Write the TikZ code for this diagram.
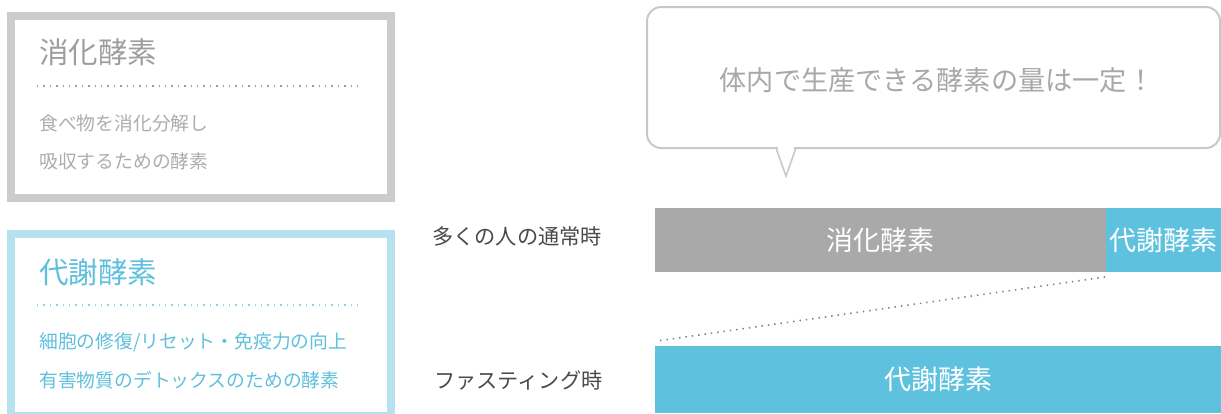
\documentclass[tikz,border=0pt]{standalone}
\usepackage{fontspec}
\setmainfont{Noto Sans CJK JP}
\definecolor{gborder}{HTML}{CCCCCC}
\definecolor{gtext}{HTML}{9E9E9E}
\definecolor{bborder}{HTML}{B5E2EE}
\definecolor{btext}{HTML}{5EC0DC}
\definecolor{bargray}{HTML}{A9A9A9}
\definecolor{barblue}{HTML}{5EC2DF}
\definecolor{labeltext}{HTML}{4A4A4A}
\definecolor{bubbleline}{HTML}{C8C8C8}
\tikzset{
  infobox/.style={draw, line width=8pt, minimum width=380pt, minimum height=182pt, inner sep=0pt},
  boxtitle/.style={anchor=west, inner sep=0pt, font=\fontsize{29.5}{29.5}\selectfont},
  boxbody/.style={anchor=west, inner sep=0pt, font=\fontsize{18.8}{18.8}\selectfont},
  sepline/.style={line width=1.6pt, dash pattern=on 1.4pt off 5pt},
  bar/.style={inner sep=0pt, text=white, font=\fontsize{27}{27}\selectfont},
  rowlabel/.style={anchor=west, inner sep=0pt, text=labeltext, font=\fontsize{21.2}{21.2}\selectfont},
}
\begin{document}
\begin{tikzpicture}[x=1pt,y=-1pt]
\useasboundingbox (0,0) rectangle (1221,413);
\clip (0,0) rectangle (1221,413);
% left boxes
\node[infobox, draw=gborder] (dbox) at (201,106.5) {};
\node[boxtitle, text=gtext] (dtitle) at (39,52.5) {消化酵素};
\coordinate (dl1) at (37,86);
\coordinate (dl2) at (362,86);
\draw[sepline, draw=gtext] (dl1) -- (dl2);
\node[boxbody, text=gtext!85] (dbody1) at (39,123.5) {食べ物を消化分解し};
\node[boxbody, text=gtext!85] (dbody2) at (39,161) {吸収するための酵素};

\node[infobox, draw=bborder] (mbox) at (201,324.5) {};
\node[boxtitle, text=btext] (mtitle) at (39,272.5) {代謝酵素};
\coordinate (ml1) at (37,305);
\coordinate (ml2) at (362,305);
\draw[sepline, draw=btext!70] (ml1) -- (ml2);
\node[boxbody, text=btext] (mbody1) at (39,342.5) {細胞の修復/リセット・免疫力の向上};
\node[boxbody, text=btext] (mbody2) at (39,380) {有害物質のデトックスのための酵素};

% speech bubble
\node[draw=bubbleline, line width=2pt, rounded corners=14pt, fill=white, minimum width=573pt, minimum height=141pt, inner sep=0pt] (bubble) at (933.5,77.5) {};
\coordinate (t1) at (776,148);
\coordinate (t2) at (786,176);
\coordinate (t3) at (796,148);
\fill[white] (777.5,146) -- (786,172) -- (794.5,146) -- cycle;
\draw[bubbleline, line width=1.6pt, line join=miter] (t1) -- (t2) -- (t3);
\node[inner sep=0pt, text=gtext!90, font=\fontsize{27.2}{27.2}\selectfont] (msg) at (937,80) {体内で生産できる酵素の量は一定！};

% row labels
\node[rowlabel] (lnormal) at (432,236.5) {多くの人の通常時};
\node[rowlabel] (lfast) at (434,380) {ファスティング時};

% bars
\node[bar, fill=bargray, minimum width=451pt, minimum height=64pt] (dig) at (880.5,240) {消化酵素};
\node[bar, fill=barblue, minimum width=115pt, minimum height=64pt] (met) at (1163.5,240) {\hspace*{-1pt}代謝酵素};
\node[bar, fill=barblue, minimum width=566pt, minimum height=67pt] (fast) at (938,379.5) {代謝酵素};

% dotted guide
\coordinate (g1) at (1105,277);
\coordinate (g2) at (657,341);
\draw[gray, line width=1.6pt, dash pattern=on 1.4pt off 5pt] (g1) -- (g2);
\end{tikzpicture}
\end{document}
